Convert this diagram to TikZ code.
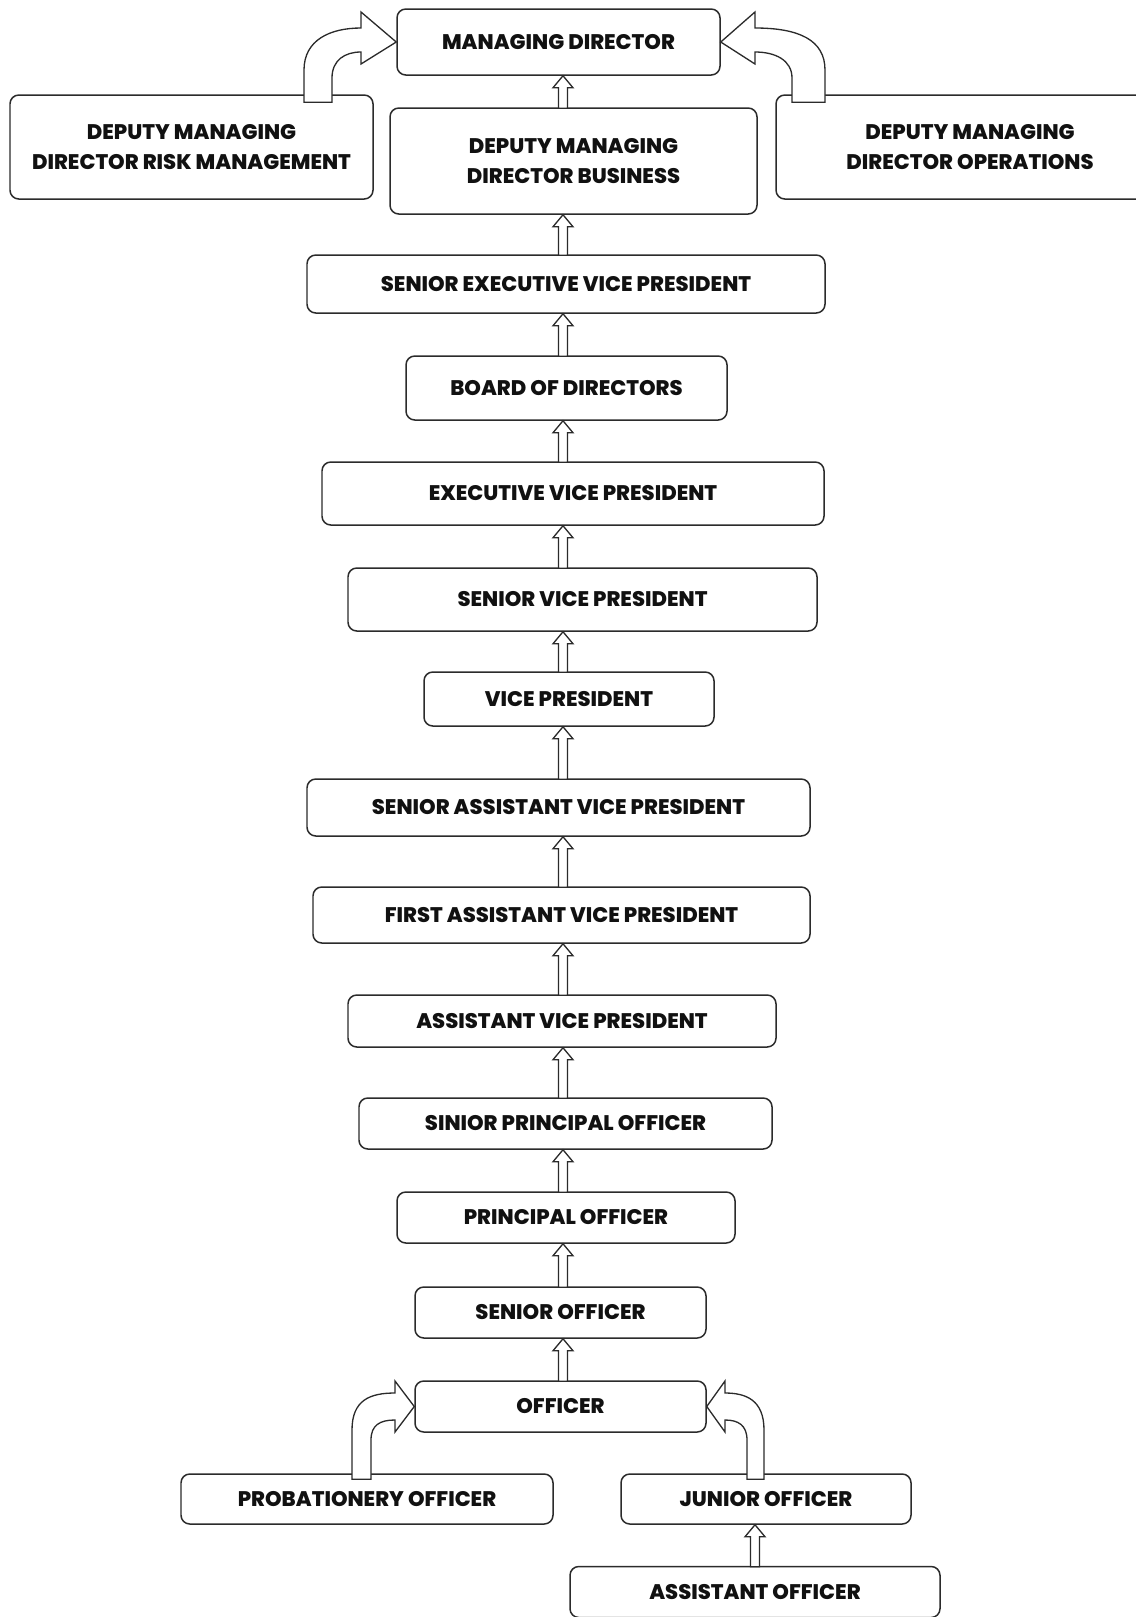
\documentclass[tikz,border=0pt]{standalone}
\usepackage{fontspec}
\setmainfont{Poppins}[BoldFont={Poppins ExtraBold}]
\usepackage{tikz}
\usetikzlibrary{calc}
\definecolor{rankline}{HTML}{2B2B2B}
\definecolor{ranktext}{HTML}{111111}

% hollow up arrow: lower box, upper box, column
\newcommand{\rankarrow}[3]{%
  \draw[arrowline] ($(#1.north -| #3)+(-4.5,1)$) -- ($(#2.south -| #3)+(-4.5,12)$) -- ++(-5.5,0)
    -- (#2.south -| #3) -- ++(10,12) -- ++(-5.5,0) -- ($(#1.north -| #3)+(4.5,1)$) -- cycle;}

\begin{document}
\begin{tikzpicture}[x=0.02cm, y=-0.02cm, font=\fontsize{12}{17.5}\selectfont\bfseries,
    rankbox/.style 2 args={draw=rankline, line width=0.85pt, rounded corners=5pt, fill=white,
      text=ranktext, align=center, inner sep=0pt, minimum width=#1*0.02cm, minimum height=#2*0.02cm},
    arrowline/.style={draw=rankline, line width=0.75pt, fill=white}]
  \clip (0,0) rectangle (1136,1617);
  \coordinate (chain) at (563,0);
  \coordinate (side) at (755,0);
  % top level
  \node[rankbox={323}{66}] (md) at (558.5,42) {MANAGING DIRECTOR};
  \node[rankbox={363}{104}] (risk) at (191.5,147) {DEPUTY MANAGING\\DIRECTOR RISK MANAGEMENT};
  \node[rankbox={367}{106}] (biz) at (573.5,161) {DEPUTY MANAGING\\DIRECTOR BUSINESS};
  \node[rankbox={388}{104}] (ops) at (970,147) {DEPUTY MANAGING\\DIRECTOR OPERATIONS};
  % main chain
  \node[rankbox={518}{58}] (sevp) at (566,284) {SENIOR EXECUTIVE VICE PRESIDENT};
  \node[rankbox={321}{64}] (board) at (566.5,388) {BOARD OF DIRECTORS};
  \node[rankbox={502}{63}] (evp) at (573,493.5) {EXECUTIVE VICE PRESIDENT};
  \node[rankbox={469}{63}] (svp) at (582.5,599.5) {SENIOR VICE PRESIDENT};
  \node[rankbox={290}{54}] (vp) at (569,699) {VICE PRESIDENT};
  \node[rankbox={503}{57}] (savp) at (558.5,807.5) {SENIOR ASSISTANT VICE PRESIDENT};
  \node[rankbox={497}{56}] (favp) at (561.5,915) {FIRST ASSISTANT VICE PRESIDENT};
  \node[rankbox={428}{52}] (avp) at (562,1021) {ASSISTANT VICE PRESIDENT};
  \node[rankbox={413}{51}] (spo) at (565.5,1123.5) {SINIOR PRINCIPAL OFFICER};
  \node[rankbox={338}{51}] (po) at (566,1217.5) {PRINCIPAL OFFICER};
  \node[rankbox={291}{51}] (so) at (560.5,1312.5) {SENIOR OFFICER};
  \node[rankbox={291}{51}] (off) at (560.5,1406.5) {OFFICER};
  % entry level
  \node[rankbox={372}{50}] (prob) at (367,1499) {PROBATIONERY OFFICER};
  \node[rankbox={290}{50}] (jun) at (766,1499) {JUNIOR OFFICER};
  \node[rankbox={370}{51}] (asst) at (755,1592) {ASSISTANT OFFICER};
  % straight arrows
  \rankarrow{biz}{md}{chain}
  \rankarrow{sevp}{biz}{chain}
  \rankarrow{board}{sevp}{chain}
  \rankarrow{evp}{board}{chain}
  \rankarrow{svp}{evp}{chain}
  \rankarrow{vp}{svp}{chain}
  \rankarrow{savp}{vp}{chain}
  \rankarrow{favp}{savp}{chain}
  \rankarrow{avp}{favp}{chain}
  \rankarrow{spo}{avp}{chain}
  \rankarrow{po}{spo}{chain}
  \rankarrow{so}{po}{chain}
  \rankarrow{off}{so}{chain}
  \rankarrow{asst}{jun}{side}
  % curved arrows into managing director
  \draw[arrowline] ($(risk.north)+(112.5,8)$) -- (304,70) .. controls (304,40) and (330,28) .. (361,28)
    -- (361,12) -- (md.west) -- (361,64) -- (361,52) .. controls (345,52) and (332,60) .. (332,78)
    -- ($(risk.north)+(140.5,8)$) -- cycle;
  \draw[arrowline] ($(ops.north)+(-145,8)$) -- (825,70) .. controls (825,40) and (799,28) .. (755,28)
    -- (755,12) -- (md.east) -- (755,64) -- (755,52) .. controls (775,52) and (792,60) .. (792,78)
    -- ($(ops.north)+(-178,8)$) -- cycle;
  % curved arrows into officer
  \draw[arrowline] ($(prob.north)+(-15,6)$) -- (352,1430) .. controls (352,1400) and (370,1393) .. (395,1393)
    -- (395,1381) -- (off.west) -- (395,1432) -- (395,1420) .. controls (380,1420) and (371,1425) .. (371,1440)
    -- ($(prob.north)+(4,6)$) -- cycle;
  \draw[arrowline] ($(jun.north)+(-2,6)$) -- (764,1430) .. controls (764,1400) and (746,1393) .. (725,1393)
    -- (725,1381) -- (off.east) -- (725,1432) -- (725,1420) .. controls (738,1420) and (747,1425) .. (747,1440)
    -- ($(jun.north)+(-19,6)$) -- cycle;
\end{tikzpicture}
\end{document}
